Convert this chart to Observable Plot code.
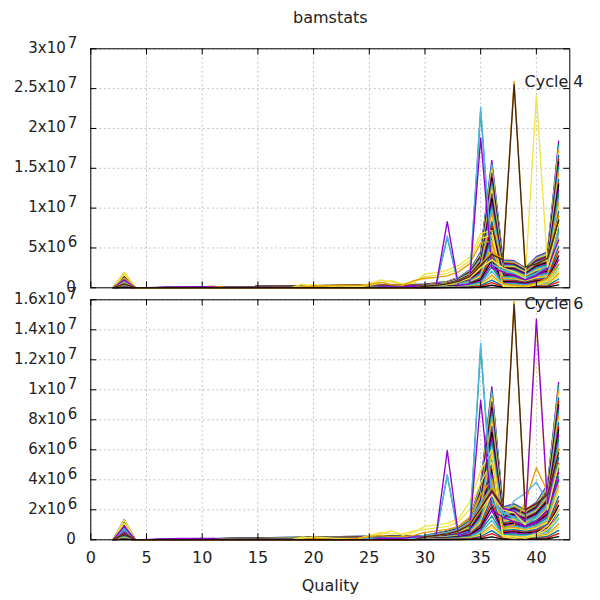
<!DOCTYPE html>
<html><head><meta charset="utf-8">
<script src="https://cdn.jsdelivr.net/npm/d3@7"></script>
<script src="https://cdn.jsdelivr.net/npm/@observablehq/plot@0.6"></script>
<style>
body{margin:0;background:#fff}
#c{position:relative;width:600px;height:600px;overflow:hidden}
#c svg{position:absolute;left:0}
</style>
</head><body><div id="c"></div>
<script>
// Qualities used by the "fan" of per-cycle lines and by the outlier cycles
const fanQualities = [2,3,4,30,32,33,34,35,36,37,38,39,40,41,42];
const outQualities = [2,3,4,8,10,11,12,18,19,20,22,24,25,26,27,28,29,30,31,32,33,34,35,36,37,38,39,40,41,42];
const palette = ["#9400d3","#009e73","#56b4e9","#e69f00","#f0e442","#0072b2","#e51e10","#000000"];
const xTicks = [0,5,10,15,20,25,30,35,40];

// Panel 1 (Cycle 4), counts in millions
const fanTop = [
[0,1.9,0,.45,.8,1.3,2.2,4.5,16.0,3.5,3.4,2.5,3.9,4.5,18.4],
[0,1.85,0,.44,.78,1.25,2.15,4.4,15.6,3.45,3.3,2.45,3.8,4.4,18.0],
[0,1.8,0,.43,.77,1.2,2.1,4.3,15.4,3.35,3.25,2.4,3.75,4.3,17.7],
[0,1.8,0,.42,.75,1.22,2.05,4.2,15.0,3.3,3.2,2.35,3.65,4.2,17.3],
[0,1.75,0,.41,.74,1.2,2.0,4.15,14.7,3.2,3.1,2.3,3.6,4.15,16.9],
[0,1.7,0,.4,.72,1.15,2.0,4.05,14.4,3.15,3.05,2.25,3.5,4.05,16.6],
[0,1.68,0,.4,.7,1.14,1.95,3.95,14.1,3.1,3.0,2.2,3.45,3.95,16.2],
[0,1.63,0,.39,.69,1.1,1.9,3.85,13.8,3.0,2.9,2.15,3.35,3.85,15.8],
[0,1.6,0,.38,.67,1.1,1.85,3.8,13.4,2.95,2.85,2.1,3.3,3.8,15.5],
[0,1.56,0,.37,.66,1.07,1.8,3.7,13.1,2.85,2.8,2.05,3.2,3.7,15.1],
[0,1.52,0,.36,.64,1.04,1.76,3.6,12.8,2.8,2.7,2.0,3.1,3.6,14.7],
[0,1.48,0,.35,.62,1.0,1.72,3.5,12.5,2.73,2.65,1.95,3.05,3.5,14.4],
[0,1.44,0,.34,.61,.99,1.67,3.42,12.2,2.66,2.58,1.9,2.96,3.42,14.0],
[0,1.4,0,.33,.59,.96,1.63,3.33,11.8,2.6,2.5,1.85,2.9,3.33,13.6],
[0,1.37,0,.32,.58,.94,1.58,3.24,11.5,2.52,2.45,1.8,2.8,3.24,13.2],
[0,1.33,0,.32,.56,.91,1.54,3.15,11.2,2.45,2.38,1.75,2.73,3.15,12.9],
[0,1.27,0,.3,.54,.87,1.47,3.0,10.7,2.35,2.28,1.68,2.6,3.0,12.3],
[0,1.22,0,.29,.51,.83,1.4,2.88,10.2,2.24,2.18,1.6,2.5,2.88,11.8],
[0,1.16,0,.27,.49,.79,1.34,2.75,9.8,2.14,2.07,1.53,2.38,2.75,11.2],
[0,1.1,0,.26,.46,.75,1.28,2.6,9.3,2.03,1.97,1.45,2.26,2.6,10.7],
[0,1.05,0,.25,.44,.72,1.21,2.48,8.8,1.93,1.87,1.38,2.15,2.48,10.1],
[0,.99,0,.23,.42,.68,1.14,2.34,8.3,1.82,1.77,1.3,2.03,2.34,9.6],
[0,.93,0,.22,.39,.64,1.08,2.2,7.8,1.72,1.67,1.23,1.91,2.2,9.0],
[0,.87,0,.21,.37,.6,1.01,2.07,7.4,1.61,1.56,1.15,1.79,2.07,8.5],
[0,.82,0,.19,.34,.56,.95,1.94,6.9,1.5,1.46,1.08,1.68,1.94,7.9],
[0,.76,0,.18,.32,.52,.88,1.8,6.4,1.4,1.36,1.0,1.56,1.8,7.4],
[0,.7,0,.17,.3,.48,.81,1.67,5.9,1.3,1.26,.93,1.44,1.67,6.8],
[0,.65,0,.15,.27,.44,.75,1.53,5.4,1.19,1.16,.85,1.33,1.53,6.3],
[0,.59,0,.14,.25,.4,.68,1.4,5.0,1.09,1.05,.78,1.21,1.4,5.7],
[0,.53,0,.13,.22,.36,.62,1.26,4.5,.98,.95,.7,1.09,1.26,5.2],
[0,.48,0,.11,.2,.33,.55,1.13,4.0,.88,.85,.63,.98,1.13,4.6],
[0,.42,0,.1,.18,.29,.48,.99,3.5,.77,.75,.55,.86,.99,4.0],
[0,.36,0,.09,.15,.25,.42,.86,3.0,.67,.65,.48,.74,.86,3.5],
[0,.3,0,.07,.13,.21,.35,.72,2.6,.56,.54,.4,.62,.72,2.9],
[0,.25,0,.06,.1,.17,.29,.59,2.1,.46,.44,.33,.51,.59,2.4],
[0,.19,0,.05,.08,.13,.22,.45,1.6,.35,.34,.25,.39,.45,1.8],
[0,.15,0,.04,.06,.1,.18,.36,1.3,.28,.27,.2,.31,.36,1.5],
[0,.11,0,.03,.05,.08,.13,.27,.96,.21,.2,.15,.23,.27,1.1],
[0,.08,0,.02,.03,.05,.09,.18,.64,.14,.14,.1,.16,.18,.74],
[0,.04,0,.01,.02,.03,.04,.09,.32,.07,.07,.05,.08,.09,.37]
];
const outTop = [
[0,1.95,0,0,0,0,0,0,.5,.1,0,.2,.5,1.0,.75,.45,.6,1.75,1.9,2.2,2.8,3.8,6.8,7.2,.3,.2,.1,.4,.8,2.0],
[0,1.7,0,0,0,0,0,0,.2,.4,.1,.1,.3,.6,.9,.5,.8,1.4,1.55,1.8,2.4,3.4,6.2,6.6,.2,.1,.2,.5,1.0,2.5],
[0,1.2,0,.05,.1,.2,.05,0,.1,.2,.3,.3,.4,.7,.4,.3,.9,1.2,1.3,1.5,2.0,3.0,5.6,5.9,.5,.3,.2,.6,1.2,3.0],
[0,.8,0,0,.1,0,0,0,0,0,0,0,0,.1,.1,.1,.1,.2,.3,6.3,.4,.6,22.2,3.0,2.2,1.8,1.2,1.8,2.8,7.0],
[0,.9,0,0,.1,0,0,0,0,0,0,0,0,.1,.1,.1,.1,.2,.3,6.5,.4,.6,22.7,3.0,2.2,1.8,1.2,1.8,2.8,7.0],
[0,1.0,0,.1,.15,.1,0,0,0,0,0,0,0,.1,.1,.1,.2,.2,.3,8.3,.3,.5,18.8,2.5,2.0,1.5,1.0,1.5,2.5,6.0],
[0,.6,0,0,0,0,0,0,0,0,0,0,0,0,0,0,0,.2,.3,.4,.7,1.2,2.5,3.5,2.5,2.0,1.2,24.1,2.6,8.0],
[0,.5,0,0,0,0,0,0,0,0,0,0,0,0,0,0,0,.2,.3,.5,.8,1.5,3.0,4.5,3.6,25.9,2.6,3.0,3.8,9.0],
[0,.5,0,0,0,0,0,0,0,0,0,0,0,0,0,0,0,.2,.3,.5,.8,1.4,2.8,4.2,3.5,25.5,2.6,3.0,3.7,8.5]
];
const outTopColors = ["#f0e442","#f0e442","#e69f00","#009e73","#56b4e9","#9400d3","#f0e442","#e69f00","#4a2511"];

// Panel 2 (Cycle 6), counts in millions
const fanBottom = [
[0,1.35,0,.3,.6,.85,1.4,3.7,10.2,2.2,2.4,2.0,2.5,3.7,10.5],
[0,1.32,0,.29,.59,.83,1.37,3.63,10.0,2.16,2.35,1.96,2.45,3.63,10.3],
[0,1.3,0,.29,.58,.82,1.34,3.55,9.8,2.11,2.3,1.92,2.4,3.55,10.1],
[0,1.27,0,.28,.56,.8,1.32,3.48,9.6,2.07,2.26,1.88,2.35,3.48,9.9],
[0,1.24,0,.28,.55,.78,1.29,3.4,9.4,2.02,2.21,1.84,2.3,3.4,9.7],
[0,1.22,0,.27,.54,.77,1.26,3.33,9.2,1.98,2.16,1.8,2.25,3.33,9.45],
[0,1.19,0,.26,.53,.75,1.23,3.26,9.0,1.94,2.11,1.76,2.2,3.26,9.25],
[0,1.16,0,.26,.52,.73,1.2,3.18,8.8,1.89,2.06,1.72,2.15,3.18,9.0],
[0,1.13,0,.25,.5,.71,1.18,3.11,8.6,1.85,2.02,1.68,2.1,3.11,8.8],
[0,1.11,0,.25,.49,.7,1.15,3.03,8.4,1.8,1.97,1.64,2.05,3.03,8.6],
[0,1.08,0,.24,.48,.68,1.12,2.96,8.2,1.76,1.92,1.6,2.0,2.96,8.4],
[0,1.05,0,.23,.47,.66,1.09,2.89,8.0,1.72,1.87,1.56,1.95,2.89,8.2],
[0,1.03,0,.23,.46,.65,1.06,2.81,7.75,1.67,1.82,1.52,1.9,2.81,8.0],
[0,1.0,0,.22,.44,.63,1.04,2.74,7.55,1.63,1.78,1.48,1.85,2.74,7.8],
[0,.97,0,.22,.43,.61,1.01,2.66,7.35,1.58,1.73,1.44,1.8,2.66,7.55],
[0,.95,0,.21,.42,.6,.98,2.59,7.15,1.54,1.68,1.4,1.75,2.59,7.35],
[0,.9,0,.2,.4,.57,.94,2.48,6.85,1.47,1.61,1.34,1.68,2.48,7.0],
[0,.86,0,.19,.38,.54,.9,2.37,6.5,1.41,1.54,1.28,1.6,2.37,6.7],
[0,.82,0,.18,.37,.52,.85,2.26,6.2,1.34,1.46,1.22,1.53,2.26,6.4],
[0,.78,0,.17,.35,.49,.81,2.15,5.9,1.28,1.39,1.16,1.45,2.15,6.1],
[0,.74,0,.17,.33,.47,.77,2.04,5.6,1.21,1.32,1.1,1.38,2.04,5.8],
[0,.7,0,.16,.31,.44,.73,1.92,5.3,1.14,1.25,1.04,1.3,1.92,5.5],
[0,.66,0,.15,.29,.42,.69,1.81,5.0,1.08,1.18,.98,1.23,1.81,5.1],
[0,.62,0,.14,.28,.39,.64,1.7,4.7,1.01,1.1,.92,1.15,1.7,4.8],
[0,.58,0,.13,.26,.37,.6,1.59,4.4,.95,1.03,.86,1.08,1.59,4.5],
[0,.54,0,.12,.24,.34,.56,1.48,4.1,.88,.96,.8,1.0,1.48,4.2],
[0,.5,0,.11,.22,.31,.52,1.37,3.8,.81,.89,.74,.93,1.37,3.9],
[0,.46,0,.1,.2,.29,.48,1.26,3.5,.75,.82,.68,.85,1.26,3.6],
[0,.42,0,.09,.19,.26,.43,1.15,3.2,.68,.74,.62,.78,1.15,3.3],
[0,.38,0,.08,.17,.24,.39,1.04,2.9,.62,.67,.56,.7,1.04,2.9],
[0,.34,0,.08,.15,.21,.35,.93,2.55,.55,.6,.5,.63,.93,2.6],
[0,.3,0,.07,.13,.19,.31,.81,2.25,.48,.53,.44,.55,.81,2.3],
[0,.26,0,.06,.11,.16,.27,.7,1.95,.42,.46,.38,.48,.7,2.0],
[0,.22,0,.05,.1,.14,.22,.59,1.6,.35,.38,.32,.4,.59,1.7],
[0,.18,0,.04,.08,.11,.18,.48,1.3,.29,.31,.26,.33,.48,1.4],
[0,.14,0,.03,.06,.09,.14,.37,1.0,.22,.24,.2,.25,.37,1.05],
[0,.11,0,.02,.05,.07,.11,.3,.82,.18,.19,.16,.2,.3,.84],
[0,.08,0,.02,.04,.05,.08,.22,.61,.13,.14,.12,.15,.22,.63],
[0,.05,0,.01,.02,.03,.06,.15,.41,.09,.1,.08,.1,.15,.42],
[0,.03,0,.01,.01,.02,.03,.07,.2,.04,.05,.04,.05,.07,.21]
];
const outBottom = [
[0,1.33,0,0,0,0,0,0,.2,.1,0,.1,.2,.4,.6,.3,.5,.9,1.0,1.1,1.4,2.5,4.6,6.0,.3,.2,.1,.3,.7,1.5],
[0,1.1,0,0,0,0,0,0,.1,.2,.1,.1,.3,.5,.4,.4,.6,.7,.8,.9,1.2,2.0,3.8,5.2,.2,.1,.2,.4,.9,2.0],
[0,.8,0,0,.05,.1,0,0,0,.1,0,.1,.2,.3,.2,.2,.3,.5,.6,.7,.9,1.5,3.0,4.0,.8,1.0,2.5,4.8,3.2,5.0],
[0,.7,0,0,0,0,0,0,0,0,0,0,.1,.1,.1,.1,.2,.3,.4,.5,.7,1.2,2.5,3.5,1.5,2.6,3.1,3.84,2.5,6.0],
[0,.75,0,0,.1,0,0,0,0,0,0,0,0,.1,.1,.1,.1,.2,.3,4.3,.3,.5,12.8,2.5,1.8,1.5,1.0,1.5,2.3,5.0],
[0,.8,0,0,.1,0,0,0,0,0,0,0,0,.1,.1,.1,.1,.2,.3,4.35,.3,.5,13.1,2.5,1.8,1.5,1.0,1.5,2.3,5.0],
[0,.9,0,.1,.1,.1,0,0,0,0,0,0,0,.1,.1,.1,.2,.2,.3,5.95,.3,.5,9.3,2.0,1.5,1.2,.9,1.2,2.0,4.0],
[0,.5,0,0,0,0,0,0,0,0,0,0,0,0,0,0,0,.2,.3,.4,.6,1.0,2.0,3.0,2.0,1.8,1.0,14.3,2.0,5.0],
[0,.5,0,0,0,0,0,0,0,0,0,0,0,0,0,0,0,.2,.3,.4,.6,1.1,2.1,3.2,2.1,1.9,1.2,14.7,2.4,6.0],
[0,.4,0,0,0,0,0,0,0,0,0,0,0,0,0,0,0,.2,.3,.4,.6,1.1,2.2,3.5,2.2,15.9,2.0,2.4,3.0,6.0],
[0,.4,0,0,0,0,0,0,0,0,0,0,0,0,0,0,0,.2,.3,.4,.6,1.0,2.1,3.3,2.2,15.7,2.0,2.4,3.0,5.8]
];
const outBottomColors = ["#f0e442","#f0e442","#e69f00","#56b4e9","#009e73","#56b4e9","#9400d3","#f0e442","#9400d3","#e69f00","#4a2511"];

const topTicks = [0,5e6,1e7,1.5e7,2e7,2.5e7,3e7];
const topMant = ["0","5x10","1x10","1.5x10","2x10","2.5x10","3x10"];
const topExp  = ["","6","7","7","7","7","7"];
const botTicks = [0,2e6,4e6,6e6,8e6,1e7,1.2e7,1.4e7,1.6e7];
const botMant = ["0","2x10","4x10","6x10","8x10","1x10","1.2x10","1.4x10","1.6x10"];
const botExp  = ["","6","6","6","6","7","7","7","7"];

function buildRows(fan, outs, outColors) {
  const rows = [];
  fan.forEach((r, i) => r.forEach((v, j) => rows.push({id: "f" + i, q: fanQualities[j], v: v * 1e6, c: palette[i % 8]})));
  outs.forEach((r, i) => r.forEach((v, j) => rows.push({id: "o" + i, q: outQualities[j], v: v * 1e6, c: outColors[i]})));
  return rows;
}

const XMAX = 43;
const FRAME_L = 90.3, FRAME_R = 569.3;

function panel({rows, ymax, ticks, mant, exps, cycle, height, mt, mb, cycleDy, bottomAxis, title}) {
  const plotH = height - mt - mb;
  const tickY = ymax * 6 / plotH;
  const tickX = XMAX * 6 / (FRAME_R - FRAME_L);
  const labs = ticks.map((t, i) => ({t, m: mant[i], e: exps[i]}));
  const font = "'DejaVu Sans', sans-serif";
  const txt = {fill: "#222", lineAnchor: "middle"};
  const marks = [
    Plot.gridX(xTicks, {stroke: "#c4c4c4", strokeOpacity: 1, strokeDasharray: "2,2.5"}),
    Plot.gridY(ticks, {stroke: "#c4c4c4", strokeOpacity: 1, strokeDasharray: "2,2.5"}),
    Plot.line(rows, {x: "q", y: "v", z: "id", stroke: "c", strokeWidth: 1.35, curve: "linear"}),
    Plot.frame({stroke: "black", strokeWidth: 1}),
    Plot.ruleY(ticks, {y: d => d, x1: 0, x2: tickX, stroke: "black"}),
    Plot.ruleY(ticks, {y: d => d, x1: XMAX - tickX, x2: XMAX, stroke: "black"}),
    Plot.ruleX(xTicks, {x: d => d, y1: 0, y2: tickY, stroke: "black"}),
    Plot.ruleX(xTicks, {x: d => d, y1: ymax - tickY, y2: ymax, stroke: "black"}),
    Plot.text(labs.filter(d => d.e), {...txt, y: "t", text: "m", frameAnchor: "left", textAnchor: "end", dx: -25, dy: -1, fontSize: 15}),
    Plot.text(labs.filter(d => d.e), {...txt, y: "t", text: "e", frameAnchor: "left", textAnchor: "start", dx: -23, dy: -5.5, fontSize: 15}),
    Plot.text(labs.filter(d => !d.e), {...txt, y: "t", text: "m", frameAnchor: "left", textAnchor: "end", dx: -15, dy: -1, fontSize: 15}),
    Plot.text([cycle], {...txt, frameAnchor: "top-right", textAnchor: "end", dx: 13.7, dy: cycleDy, fontSize: 16})
  ];
  if (bottomAxis) {
    marks.push(Plot.text(xTicks, {...txt, x: d => d, text: d => String(d), frameAnchor: "bottom", dy: 18.5, fontSize: 16}));
    marks.push(Plot.text(["Quality"], {...txt, frameAnchor: "bottom", dy: 46.5, fontSize: 16}));
  }
  if (title) {
    marks.push(Plot.text([title], {...txt, frameAnchor: "top", dy: -30.5, fontSize: 16}));
  }
  return Plot.plot({
    width: 600, height,
    marginLeft: FRAME_L, marginRight: 600 - FRAME_R, marginTop: mt, marginBottom: mb,
    x: {domain: [0, XMAX], axis: null},
    y: {domain: [0, ymax], axis: null},
    style: {fontFamily: font, fontSize: "15px", background: "transparent", overflow: "visible", color: "#222"},
    marks
  });
}

const c = document.getElementById("c");
const svgTop = panel({rows: buildRows(fanTop, outTop, outTopColors), ymax: 3e7, ticks: topTicks, mant: topMant, exps: topExp,
  cycle: "Cycle 4", height: 290, mt: 48.3, mb: 2.7, cycleDy: 32.7, bottomAxis: false, title: "bamstats"});
const svgBot = panel({rows: buildRows(fanBottom, outBottom, outBottomColors), ymax: 1.6e7, ticks: botTicks, mant: botMant, exps: botExp,
  cycle: "Cycle 6", height: 310, mt: 9.3, mb: 60.7, cycleDy: 3.9, bottomAxis: true, title: null});
svgTop.style.top = "0px";
svgBot.style.top = "290px";
c.appendChild(svgTop);
c.appendChild(svgBot);
</script>
</body></html>
